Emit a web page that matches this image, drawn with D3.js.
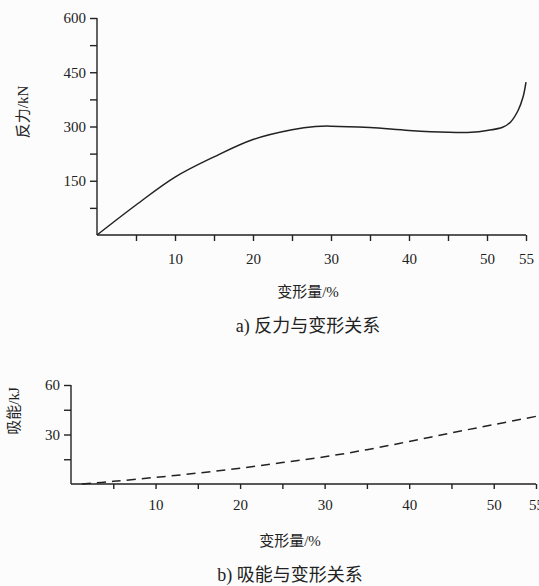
<!DOCTYPE html>
<html>
<head>
<meta charset="utf-8">
<script src="https://cdn.jsdelivr.net/npm/d3@7"></script>
<style>
    body { margin: 0; background: #fcfcfc; }
    text { font-family: "Liberation Serif", "Noto Sans CJK SC", serif; fill: #222; }
    .axis path, .axis line { stroke: #222; stroke-width: 1.4; }
    .axis text { font-size: 15px; }
    .label { font-size: 15px; }
    .caption { font-size: 18px; }
</style>
</head>
<body>
<div id="chart"></div>
<script>
// data
const forceX = [0, 5, 10, 15, 20, 25, 28, 30, 35, 40, 45, 48, 50, 52, 53, 54, 54.6, 55];
const forceY = [0, 83, 160, 216, 264, 291, 300, 301, 297, 289, 284, 284, 289, 298, 312, 345, 380, 423];
const energyX = [1.3, 5, 10, 15, 20, 25, 30, 35, 40, 45, 50, 55];
const energyY = [0, 1.6, 4, 6.6, 9.6, 13, 16.5, 20.8, 25.8, 31, 36, 41];
const forceYTicks = [150, 300, 450, 600];
const forceYMinor = [75, 225, 375, 525];
const energyYTicks = [30, 60];
const energyYMinor = [15, 45];
const xTicks = [5, 10, 15, 20, 25, 30, 35, 40, 45, 50, 55];
const xLabels = [10, 20, 30, 40, 50, 55];

const svgWidth = 539, svgHeight = 586;
let svg = d3.select("#chart").append("svg")
    .attr("width", svgWidth)
    .attr("height", svgHeight);

function drawPanel(opts) {
    let xScale = d3.scaleLinear().domain([0, 55]).range([opts.left, opts.right]);
    let yScale = d3.scaleLinear().domain([0, opts.yMax]).range([opts.bottom, opts.top]);

    // x axis: ticks every 5, labels only on some
    let xAxis = svg.append("g")
        .attr("class", "axis")
        .attr("transform", `translate(0, ${opts.bottom})`)
        .call(d3.axisBottom(xScale)
            .tickValues(xTicks)
            .tickSizeInner(opts.xTick)
            .tickSizeOuter(0)
            .tickPadding(opts.xPad)
            .tickFormat((d) => xLabels.includes(d) ? d : ""));
    xAxis.select(".domain").attr("d", `M${opts.left},0H${opts.right}`);

    // y axis: labelled + minor ticks
    let yAxis = svg.append("g")
        .attr("class", "axis")
        .attr("transform", `translate(${opts.left}, 0)`)
        .call(d3.axisLeft(yScale)
            .tickValues(opts.yTicks.concat(opts.yMinor))
            .tickSizeInner(7)
            .tickSizeOuter(0)
            .tickPadding(4)
            .tickFormat((d) => opts.yTicks.includes(d) ? d : ""));
    yAxis.select(".domain").attr("d", `M0,${opts.top}V${opts.bottom}`);

    // curve
    let line = d3.line()
        .x((d, i) => xScale(opts.xs[i]))
        .y((d) => yScale(d))
        .curve(d3.curveCatmullRom.alpha(0.5));
    svg.append("path")
        .datum(opts.ys)
        .attr("d", line)
        .attr("fill", "none")
        .attr("stroke", "#222")
        .attr("stroke-width", 1.5)
        .attr("stroke-dasharray", opts.dash);

    // labels
    svg.append("text")
        .attr("class", "label")
        .attr("transform", `translate(${opts.yLabelX}, ${opts.yLabelY}) rotate(-90)`)
        .attr("text-anchor", "middle")
        .text(opts.yLabel);
    svg.append("text")
        .attr("class", "label")
        .attr("x", opts.xLabelX)
        .attr("y", opts.xLabelY)
        .attr("text-anchor", "middle")
        .text("变形量/%");
    svg.append("text")
        .attr("class", "caption")
        .attr("x", opts.xLabelX)
        .attr("y", opts.capY)
        .attr("text-anchor", "middle")
        .text(opts.caption);
}

drawPanel({
    left: 97, right: 526, top: 18, bottom: 235,
    yMax: 600, yTicks: forceYTicks, yMinor: forceYMinor,
    xs: forceX, ys: forceY, dash: null,
    xTick: 6, xPad: 12,
    yLabel: "反力/kN", yLabelX: 28, yLabelY: 112,
    xLabelX: 308, xLabelY: 297, capY: 332,
    caption: "a) 反力与变形关系"
});

drawPanel({
    left: 71, right: 536, top: 385, bottom: 484,
    yMax: 60, yTicks: energyYTicks, yMinor: energyYMinor,
    xs: energyX, ys: energyY, dash: "9,6",
    xTick: 5, xPad: 10,
    yLabel: "吸能/kJ", yLabelX: 19, yLabelY: 411,
    xLabelX: 290, xLabelY: 546, capY: 581,
    caption: "b) 吸能与变形关系"
});
</script>
</body>
</html>
